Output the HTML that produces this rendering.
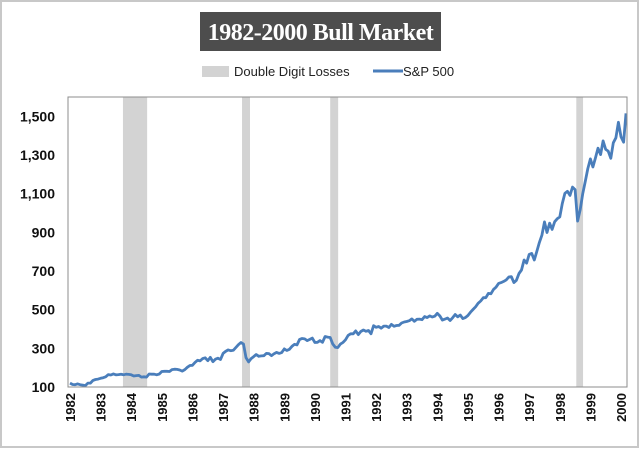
<!DOCTYPE html>
<html><head><meta charset="utf-8"><style>
body{margin:0;background:#fff;}
svg{display:block;font-family:"Liberation Sans",sans-serif;}
</style></head><body>
<svg id="chart" width="640" height="449" viewBox="0 0 640 449">
<rect x="1" y="1" width="637" height="446" fill="#fff" stroke="#c8c8c8" stroke-width="2"/>
<rect x="200" y="12" width="241" height="39" fill="#4d4d4d"/>
<text x="320.5" y="40" text-anchor="middle" fill="#fff" font-family="Liberation Serif, serif" font-weight="bold" font-size="24" letter-spacing="-0.5">1982-2000 Bull Market</text>
<g>
<rect x="202" y="80" width="27" height="11" fill="#d3d3d3" transform="translate(0,-14)"/>
<text x="234" y="76" font-size="13" fill="#222">Double Digit Losses</text>
<line x1="373" y1="71" x2="403" y2="71" stroke="#4a7ebb" stroke-width="3"/>
<text x="403" y="76" font-size="13" fill="#222">S&amp;P 500</text>
</g>
<g id="bands"></g>
<g id="yaxis"></g>
<g id="xaxis"></g>
<path id="line" fill="none" stroke="#4a7ebb" stroke-width="2.8" stroke-linejoin="round"/>
<rect x="68" y="97" width="559" height="290" fill="none" stroke="#8c8c8c" stroke-width="1"/>
</svg>
<script>
const yTicks=[100,300,500,700,900,1100,1300,1500];
const yTickLabels=["100","300","500","700","900","1,100","1,300","1,500"];
const xYears=[1982,1983,1984,1985,1986,1987,1988,1989,1990,1991,1992,1993,1994,1995,1996,1997,1998,1999,2000];
const lossStarts=[1983.73,1987.62,1990.50,1998.54];
const lossEnds=[1984.52,1987.88,1990.76,1998.76];
const spStartYear=1982;
const spMonthly=[
120,113,112,116,112,110,107,120,120,134,139,141,
145,148,153,164,162,168,163,164,166,163,166,165,
163,157,159,160,151,153,151,167,166,166,163,167,
180,181,181,180,190,192,191,188,182,190,202,211,
212,227,238,235,247,251,236,253,231,244,249,242,
274,284,292,288,290,304,319,330,322,252,230,247,
257,268,259,261,262,274,272,262,272,279,274,278,
297,289,295,310,321,318,346,351,349,340,346,353,
330,331,340,331,361,358,356,323,306,304,322,330,
344,367,375,375,390,371,387,395,388,392,375,417,
409,413,404,415,415,408,424,414,418,419,431,436,
439,443,452,440,450,451,448,464,459,468,462,466,
481,467,446,451,457,444,458,475,463,472,454,459,
470,487,501,515,533,545,562,562,584,582,605,616,
636,640,646,654,669,671,640,652,687,705,757,741,
786,791,757,801,848,885,954,899,947,915,955,970,
980,1049,1102,1112,1091,1134,1121,958,1017,1099,1164,1229,
1280,1238,1286,1335,1302,1373,1329,1320,1283,1363,1389,1469,
1394,1366,1515];
const NS="http://www.w3.org/2000/svg";
const X0=68,X1=627,Y0=97,Y1=387;
function xs(t){return 70+(t-1982)*(621-70)/18;}
function ys(v){return Y1-(v-100)*(Y1-Y0)/1500;}
const bands=document.getElementById('bands');
lossStarts.forEach((s,i)=>{
 const r=document.createElementNS(NS,'rect');
 
 
 r.setAttribute('x',xs(s));r.setAttribute('y',Y0);
 r.setAttribute('width',xs(lossEnds[i])-xs(s));r.setAttribute('height',Y1-Y0);
 r.setAttribute('fill','#d3d3d3');bands.appendChild(r);
});
const ya=document.getElementById('yaxis');
yTicks.forEach((v,i)=>{
 const t=document.createElementNS(NS,'text');
 
 
 t.setAttribute('x',55);t.setAttribute('y',ys(v)+5);
 t.setAttribute('text-anchor','end');t.setAttribute('font-weight','bold');
 t.setAttribute('font-size','14');t.setAttribute('fill','#111');
 t.textContent=yTickLabels[i];ya.appendChild(t);
});
const xa=document.getElementById('xaxis');
xYears.forEach(yr=>{
 const t=document.createElementNS(NS,'text');
 
 
 const x=xs(yr)+5,y=393;
 t.setAttribute('x',x);t.setAttribute('y',y);
 t.setAttribute('transform','rotate(-90 '+x+' '+y+')');
 t.setAttribute('text-anchor','end');t.setAttribute('font-weight','bold');
 t.setAttribute('font-size','13');t.setAttribute('fill','#111');
 t.textContent=yr;xa.appendChild(t);
});
let d='';
spMonthly.forEach((v,i)=>{
 const x=Math.min(xs(spStartYear+i/12),X1-1);
 d+=(i?'L':'M')+x.toFixed(1)+' '+ys(v).toFixed(1);
});
document.getElementById('line').setAttribute('d',d);
</script>
</body></html>
